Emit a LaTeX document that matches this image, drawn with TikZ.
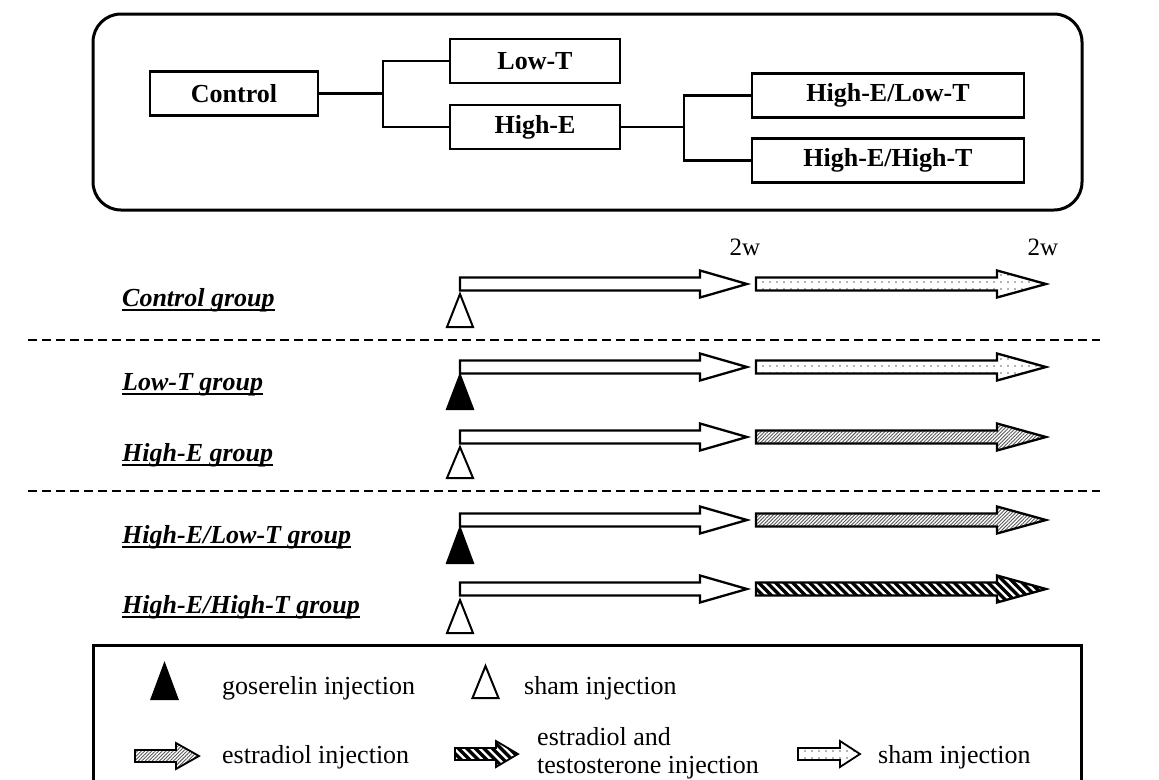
\documentclass[tikz,border=0pt]{standalone}
\usepackage{fontspec}
\setmainfont{Liberation Serif}
\usetikzlibrary{patterns.meta}
% fat arrow: style, x0, xhead, xtip, y  (shaft half 6.5, head half 13.5)
\newcommand{\fatarr}[5]{%
  \draw[arrowline,#1] (#2,#5-6.5) -- (#3,#5-6.5) -- (#3,#5-13.5) -- (#4,#5) -- (#3,#5+13.5) -- (#3,#5+6.5) -- (#2,#5+6.5) -- cycle;}
\newcommand{\smallfatarr}[5]{%
  \draw[arrowline,line width=1.8pt,#1] (#2,#5-6) -- (#3,#5-6) -- (#3,#5-13) -- (#4,#5) -- (#3,#5+13) -- (#3,#5+6) -- (#2,#5+6) -- cycle;}
% striped arrow: x0, xhead, xtip, y, shaft half, head half, outline width
\newcommand{\stripearr}[7]{%
  \begin{scope}
    \clip (#1,#4-#5) -- (#2,#4-#5) -- (#2,#4-#6) -- (#3,#4) -- (#2,#4+#6) -- (#2,#4+#5) -- (#1,#4+#5) -- cycle;
    \foreach \k in {0,...,40} {\draw[stripe] ({#1-24+8.5*\k},#4-16) -- ++(32,32);}
  \end{scope}
  \draw[line width=#7,line join=miter] (#1,#4-#5) -- (#2,#4-#5) -- (#2,#4-#6) -- (#3,#4) -- (#2,#4+#6) -- (#2,#4+#5) -- (#1,#4+#5) -- cycle;}
\newcommand{\injtri}[4]{%
  \draw[line width=2pt,line join=miter,#1] (#2,#3) -- (#2+13,#4) -- (#2-13,#4) -- cycle;}
\begin{document}
\begin{tikzpicture}[x=1pt,y=-1pt,
  treebox/.style={draw,line width=2.6pt,minimum width=#1,minimum height=44pt,inner sep=0pt,
    font=\fontsize{26}{30}\selectfont\bfseries},
  treeline/.style={line width=2.4pt},
  arrowline/.style={line width=2.3pt,line join=miter,fill=white},
  shamfill/.style={pattern={Dots[distance=7pt,radius=0.9pt]},pattern color=black!60},
  estfill/.style={pattern={Lines[angle=45,distance=2.5pt,line width=0.9pt]},pattern color=black!65},
  stripe/.style={line width=3.4pt},
  rowlab/.style={anchor=base west,inner sep=0pt,font=\fontsize{26}{30}\selectfont\bfseries\itshape},
  uline/.style={line width=1.6pt},
  weeklab/.style={inner sep=0pt,font=\fontsize{25}{28}\selectfont},
  legtext/.style={anchor=base west,inner sep=0pt,font=\fontsize{26}{28}\selectfont},
  sep/.style={line width=2pt,dash pattern=on 9pt off 5pt}]
\useasboundingbox (0,0) rectangle (1159,779);
\clip (0,0) rectangle (1159,779);
\fill[white] (0,0) rectangle (1159,779);
% ---------- top tree box ----------
\node[draw,line width=3pt,rounded corners=28pt,minimum width=989pt,minimum height=196pt,inner sep=0pt] (frame) at (587.5,112) {};
\node[treebox=168pt] (ctrl) at (234,93.5) {Control};
\node[treebox=170pt] (lowt) at (535,61) {Low-T};
\node[treebox=170pt] (highe) at (535,127) {High-E};
\node[treebox=272pt] (helt) at (888,95.5) {High-E/Low-T};
\node[treebox=272pt] (heht) at (888,160.5) {High-E/High-T};
\coordinate (s1) at (383,93.5);
\coordinate (s2) at (684,127);
\draw[treeline] (ctrl.east) -- (s1);
\draw[treeline] (lowt.west) -| (s1) |- (highe.west);
\draw[treeline] (highe.east) -- (s2);
\draw[treeline] (helt.west) -| (s2) |- (heht.west);
% ---------- timeline ----------
\node[weeklab] (w1) at (745,247) {2w};
\node[weeklab] (w2) at (1043,247) {2w};
% rows
\node[rowlab] (lc) at (122,306) {Control group};
\node[rowlab] (ll) at (122,390) {Low-T group};
\node[rowlab] (lh) at (122,461) {High-E group};
\node[rowlab] (lhl) at (122,543) {High-E/Low-T group};
\node[rowlab] (lhh) at (122,613) {High-E/High-T group};
\foreach \n in {lc,ll,lh,lhl,lhh}{
  \draw[uline] ([yshift=-4pt]\n.base west) -- ([yshift=-4pt]\n.base east);}
% arrows
\fatarr{}{460}{700}{747}{284}
\fatarr{shamfill}{756}{997}{1046}{284}
\fatarr{}{460}{700}{747}{367}
\fatarr{shamfill}{756}{997}{1046}{367}
\fatarr{}{460}{700}{747}{437}
\fatarr{estfill}{756}{997}{1046}{437}
\fatarr{}{460}{700}{747}{520}
\fatarr{estfill}{756}{997}{1046}{520}
\fatarr{}{460}{700}{747}{589}
\stripearr{756}{997}{1046}{589}{6.5}{13.5}{2.3pt}
% injection triangles
\injtri{fill=white}{460}{294}{327}
\injtri{fill=black}{460}{375}{409}
\injtri{fill=white}{460}{447}{478}
\injtri{fill=black}{460}{528}{563}
\injtri{fill=white}{460}{600}{633}
% separators
\draw[sep] (28,340) -- (1100,340);
\draw[sep] (28,491) -- (1100,491);
% ---------- legend ----------
\draw[line width=3pt] (93,645) rectangle (1081,800);
\injtri{fill=black}{164.5}{664}{699}
\node[legtext] (t1) at (222,694) {goserelin injection};
\injtri{fill=white}{485.5}{666}{698}
\node[legtext] (t2) at (524,694) {sham injection};
\smallfatarr{estfill}{135}{176}{199}{756}
\node[legtext] (t3) at (222,763) {estradiol injection};
\stripearr{455}{496}{518}{754}{6}{13}{1.8pt}
\node[legtext] (t4) at (537,745) {estradiol and};
\node[legtext] (t5) at (537,773) {testosterone injection};
\smallfatarr{shamfill}{798}{840}{860}{754}
\node[legtext] (t6) at (878,763) {sham injection};
\end{tikzpicture}
\end{document}
